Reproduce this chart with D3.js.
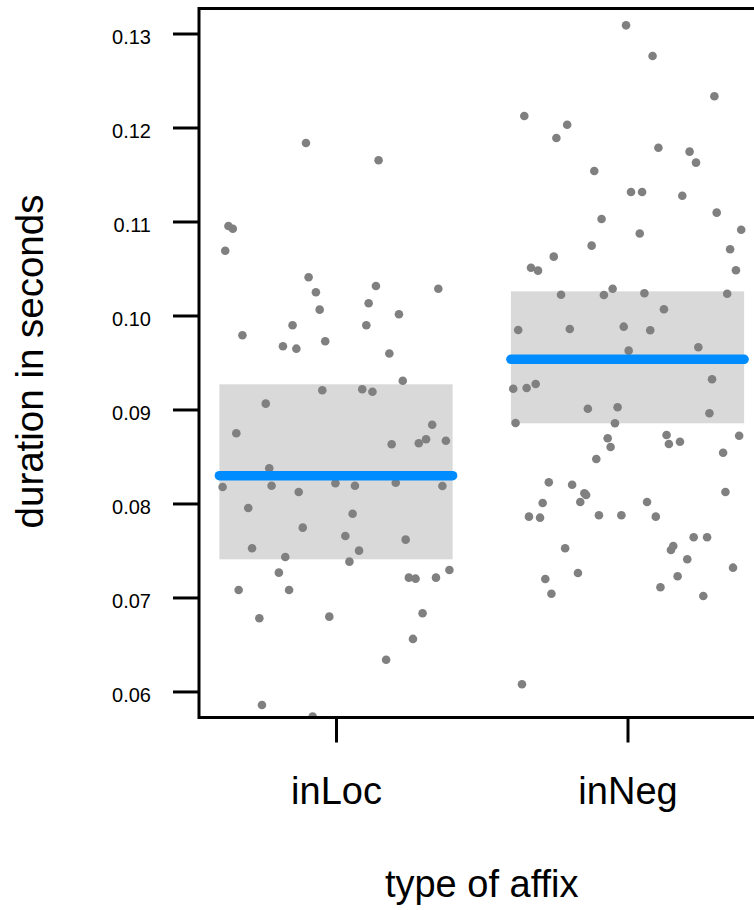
<!DOCTYPE html>
<html>
<head>
<meta charset="utf-8">
<script src="https://cdn.jsdelivr.net/npm/d3@7"></script>
<style>
  html, body { margin: 0; padding: 0; background: #fff; }
  svg { display: block; }
  text { font-family: "Liberation Sans", Arial, sans-serif; fill: #000; }
</style>
</head>
<body>
<svg id="chart" width="754" height="910"></svg>
<script>
// ---------- data ----------
const categories = ["inLoc", "inNeg"];
const means = [0.08296, 0.09534];
const ciLower = [0.07406, 0.08853];
const ciUpper = [0.09268, 0.10257];
const yTickValues = [0.06, 0.07, 0.08, 0.09, 0.10, 0.11, 0.12, 0.13];
const xTitle = "type of affix";
const yTitle = "duration in seconds";

// jittered positions (category units) and durations for each group
const inLocX = [0.897,1.146,0.631,0.646,0.620,0.906,1.137,1.351,0.931,1.112,0.944,1.216,0.851,1.104,0.679,0.818,0.864,0.963,1.183,1.229,0.953,1.090,1.125,0.759,0.658,1.330,1.191,1.284,1.309,1.377,0.771,0.611,0.779,0.998,1.065,1.205,1.365,0.872,0.699,1.057,0.886,1.032,1.239,0.712,1.079,0.826,1.046,0.804,1.250,1.273,1.343,1.389,0.666,0.839,0.737,0.977,1.297,1.264,1.172,0.746,0.920];
const inLocY = [0.11835,0.11651,0.10952,0.10923,0.10689,0.10406,0.10314,0.10285,0.10247,0.1013,0.10062,0.10013,0.09896,0.09896,0.09789,0.09672,0.09647,0.09726,0.09596,0.09306,0.09204,0.09215,0.09189,0.09062,0.08747,0.08838,0.0863,0.0864,0.08683,0.08668,0.08374,0.08176,0.08189,0.08215,0.08189,0.08221,0.08186,0.08122,0.07952,0.07891,0.07743,0.07654,0.07615,0.07523,0.07498,0.07431,0.07381,0.07264,0.07211,0.072,0.07211,0.07293,0.0708,0.0708,0.06779,0.06796,0.06832,0.06559,0.06338,0.05856,0.05732];
const inNegX = [1.995,2.086,2.298,1.646,1.793,1.756,2.106,2.213,2.235,1.886,2.012,2.050,2.188,2.306,1.911,2.042,2.390,1.877,2.352,1.747,1.669,1.693,2.372,1.949,1.772,1.919,2.058,2.342,2.125,1.625,1.802,1.987,2.078,2.004,2.243,1.608,1.654,1.685,2.290,1.864,1.966,2.281,1.616,1.957,1.932,1.942,2.134,2.142,2.180,2.383,2.328,1.893,1.730,1.810,1.852,1.858,1.838,1.709,1.662,1.700,1.902,1.979,2.067,2.097,2.336,1.786,2.227,2.273,2.157,2.149,2.205,2.362,1.718,1.830,1.739,2.172,2.113,2.260,1.638];
const inNegY = [0.13087,0.12761,0.12332,0.12122,0.1203,0.11888,0.11785,0.11743,0.11626,0.11537,0.11314,0.11314,0.11274,0.11094,0.11027,0.10872,0.10912,0.10743,0.10704,0.10626,0.10508,0.10477,0.10481,0.10285,0.10221,0.10218,0.10236,0.10232,0.10066,0.09846,0.09856,0.09881,0.09843,0.09626,0.09662,0.09221,0.09229,0.09271,0.09321,0.09008,0.09023,0.0896,0.08856,0.08853,0.08694,0.08601,0.08729,0.08633,0.08657,0.08721,0.0854,0.08473,0.08225,0.082,0.08109,0.08091,0.08016,0.08005,0.0786,0.07849,0.07874,0.07874,0.08016,0.0786,0.08122,0.07523,0.0764,0.0764,0.07548,0.07505,0.07406,0.07317,0.07197,0.0726,0.0704,0.07226,0.07109,0.07016,0.06077];

// ---------- layout ----------
const svg = d3.select("#chart");
const plotLeft = 199, plotTop = 8.5, plotBottom = 717.5;
const xDomain = [0.53, 2.47];
const x = d3.scaleLinear().domain(xDomain).range([plotLeft, plotLeft + (xDomain[1] - xDomain[0]) * 291.5]);
const y = d3.scaleLinear().domain([0.05723, 0.13266]).range([plotBottom, plotTop]);
const plotRight = x(xDomain[1]);

svg.append("defs").append("clipPath").attr("id", "clip")
  .append("rect").attr("x", plotLeft).attr("y", plotTop)
  .attr("width", plotRight - plotLeft).attr("height", plotBottom - plotTop);

const plot = svg.append("g").attr("clip-path", "url(#clip)");

const halfW = 0.4;
const groups = categories.map((c, i) => ({ cat: c, pos: i + 1, mean: means[i], lo: ciLower[i], hi: ciUpper[i] }));

// CI boxes
plot.selectAll("rect.ci").data(groups).enter().append("rect")
  .attr("class", "ci")
  .attr("x", d => x(d.pos - halfW))
  .attr("width", d => x(d.pos + halfW) - x(d.pos - halfW))
  .attr("y", d => y(d.hi))
  .attr("height", d => y(d.lo) - y(d.hi))
  .attr("fill", "#d9d9d9");

// points
const pts = [];
inLocX.forEach((v, i) => pts.push({ x: v, y: inLocY[i] }));
inNegX.forEach((v, i) => pts.push({ x: v, y: inNegY[i] }));
plot.selectAll("circle.pt").data(pts).enter().append("circle")
  .attr("class", "pt")
  .attr("cx", d => x(d.x))
  .attr("cy", d => y(d.y))
  .attr("r", 4.3)
  .attr("fill", "#808080");

// mean lines
plot.selectAll("line.mean").data(groups).enter().append("line")
  .attr("class", "mean")
  .attr("x1", d => x(d.pos - halfW))
  .attr("x2", d => x(d.pos + halfW))
  .attr("y1", d => y(d.mean))
  .attr("y2", d => y(d.mean))
  .attr("stroke", "#008cff")
  .attr("stroke-width", 9.5)
  .attr("stroke-linecap", "round");

// frame (left, top, bottom)
svg.append("path")
  .attr("d", `M${plotRight + 20},${plotTop}H${plotLeft}V${plotBottom}H${plotRight + 20}`)
  .attr("fill", "none").attr("stroke", "#000").attr("stroke-width", 3);

// y axis
const yAxis = svg.append("g").attr("transform", `translate(${plotLeft},0)`)
  .call(d3.axisLeft(y).tickValues(yTickValues).tickSize(26).tickPadding(22).tickFormat(d3.format(".2f")));
yAxis.select(".domain").remove();
yAxis.selectAll(".tick line").attr("stroke", "#000").attr("stroke-width", 3);
yAxis.selectAll(".tick text").attr("font-size", 20).attr("dy", "0.48em")
  .style("font-family", "'Liberation Sans', Arial, sans-serif");

// x axis
const xAxis = svg.append("g").attr("transform", `translate(0,${plotBottom})`)
  .call(d3.axisBottom(x).tickValues([1, 2]).tickSize(25).tickPadding(35).tickFormat((d, i) => categories[i]));
xAxis.select(".domain").remove();
xAxis.selectAll(".tick line").attr("stroke", "#000").attr("stroke-width", 3);
xAxis.selectAll(".tick text").attr("font-size", 38)
  .style("font-family", "'Liberation Sans', Arial, sans-serif");

// titles
svg.append("text")
  .attr("x", (plotLeft + plotRight) / 2).attr("y", 896.5)
  .attr("text-anchor", "middle").attr("font-size", 38)
  .text(xTitle);

svg.append("text")
  .attr("transform", `translate(43,361.5) rotate(-90)`)
  .attr("text-anchor", "middle").attr("font-size", 38.5)
  .text(yTitle);
</script>
</body>
</html>
